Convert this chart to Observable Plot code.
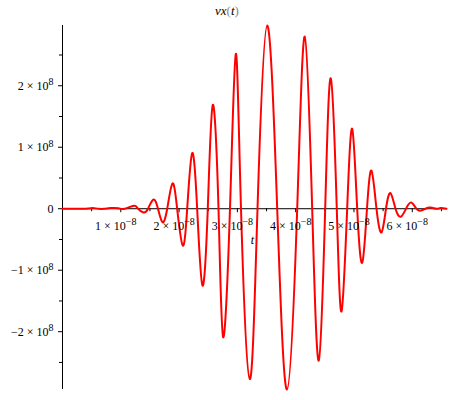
<!DOCTYPE html>
<html><head><meta charset="utf-8">
<script src="https://cdn.jsdelivr.net/npm/d3@7"></script>
<script src="https://cdn.jsdelivr.net/npm/@observablehq/plot@0.6"></script>
<style>
body{margin:0;background:#fff;}
#wrap{position:relative;width:454px;height:400px;}
#title{position:absolute;top:4px;left:0;width:454px;text-align:center;font-family:"Liberation Serif","Times New Roman",serif;font-size:13px;line-height:14px;}
#title .p{color:#888;font-style:normal;}
</style></head><body>
<div id="wrap"><div id="title"><i>vx</i><span class="p">(</span><i>t</i><span class="p">)</span></div></div>
<script>
// t in units of 1e-8 s
const tE8 = [0, 0.395, 0.515, 0.617, 0.72, 0.823, 0.96, 1.063, 1.226, 1.295, 1.389, 1.467, 1.561, 1.638, 1.715, 1.796, 1.887, 1.967, 2.063, 2.139, 2.225, 2.310, 2.401, 2.492, 2.578, 2.676, 2.756, 2.873, 2.973, 3.062, 3.213, 3.345, 3.511, 3.683, 3.851, 4.026, 4.156, 4.283, 4.396, 4.506, 4.602, 4.705, 4.786, 4.883, 4.969, 5.055, 5.141, 5.223, 5.300, 5.386, 5.472, 5.549, 5.626, 5.712, 5.803, 5.892, 5.981, 6.072, 6.153, 6.226, 6.312, 6.415, 6.484, 6.587];
// vx in units of 1e8
const vxE8 = [0, 0, 0.012, 0, 0, 0.01, 0.008, 0, 0.05, 0, -0.06, 0, 0.15, 0, -0.22, 0, 0.41, 0, -0.60, 0, 0.905, 0, -1.25, 0, 1.69, 0, -2.09, 0, 2.52, 0, -2.77, 0, 2.98, 0, -2.94, 0, 2.80, 0, -2.47, 0, 2.12, 0, -1.67, 0, 1.30, 0, -0.88, 0, 0.62, 0, -0.385, 0, 0.255, 0, -0.13, 0, 0.10, 0, -0.03, 0, 0.02, 0, 0.01, 0];
const xMajor = [1, 2, 3, 4, 5, 6];
const xMinor = [0.5, 1.5, 2.5, 3.5, 4.5, 5.5, 6.5];
const yMajor = [-2, -1, 0, 1, 2];
const yMinor = [-2.5, -1.5, -0.5, 0.5, 1.5, 2.5];
const xLabels = ["1 × 10^−8", "2 × 10^−8", "3 × 10^−8", "4 × 10^−8", "5 × 10^−8", "6 × 10^−8"];
const yLabels = ["−2 × 10^8", "−1 × 10^8", "0", "1 × 10^8", "2 × 10^8"];
const xAxisLabel = "t";

const data = tE8.map((t, i) => ({t: t * 1e-8, vx: vxE8[i] * 1e8}));
const serif = "'Liberation Serif', 'Times New Roman', serif";

const chart = Plot.plot({
  width: 454, height: 400,
  marginLeft: 62, marginRight: 8, marginTop: 25, marginBottom: 11,
  x: {domain: [0, d3.max(data, d => d.t)], axis: null},
  y: {domain: d3.extent(data, d => d.vx), axis: null},
  style: {fontFamily: serif, fontSize: "12px", background: "white", overflow: "visible"},
  marks: [
    Plot.ruleY([0], {stroke: "black"}),
    Plot.ruleX([0], {stroke: "black"}),
    Plot.ruleX(xMajor, {x: d => d * 1e-8, y1: () => 0, y2: () => 0, insetBottom: -4, stroke: "black"}),
    Plot.ruleX(xMinor, {x: d => d * 1e-8, y1: () => 0, y2: () => 0, insetBottom: -3, stroke: "black"}),
    Plot.ruleY(yMajor, {y: d => d * 1e8, x1: () => 0, x2: () => 0, insetLeft: -4, stroke: "black"}),
    Plot.ruleY(yMinor, {y: d => d * 1e8, x1: () => 0, x2: () => 0, insetLeft: -3, stroke: "black"}),
    Plot.line(data, {x: "t", y: "vx", stroke: "#ff0000", strokeWidth: 2, curve: "natural"}),
    Plot.text(xMajor, {x: d => d * 1e-8, y: () => 0, text: (d, i) => xLabels[i], dy: 17, dx: -5, fontFamily: serif, fontSize: 12}),
    Plot.text(yMajor, {x: () => 0, y: d => d * 1e8, text: (d, i) => yLabels[i], textAnchor: "end", dx: -9, fontFamily: serif, fontSize: 12}),
    Plot.text([xAxisLabel], {text: d => d, frameAnchor: "middle", dx: -2, dy: 33, fontStyle: "italic", fontFamily: serif, fontSize: 12})
  ]
});
// render exponents as raised superscripts
d3.select(chart).selectAll("text").each(function() {
  const s = this.textContent;
  const k = s.indexOf("^");
  if (k < 0) return;
  const t = d3.select(this);
  t.text(null);
  t.append("tspan").text(s.slice(0, k));
  t.append("tspan").attr("dy", "-0.45em").attr("font-size", "10px").text(s.slice(k + 1));
});
document.getElementById("wrap").appendChild(chart);
</script>
</body></html>
